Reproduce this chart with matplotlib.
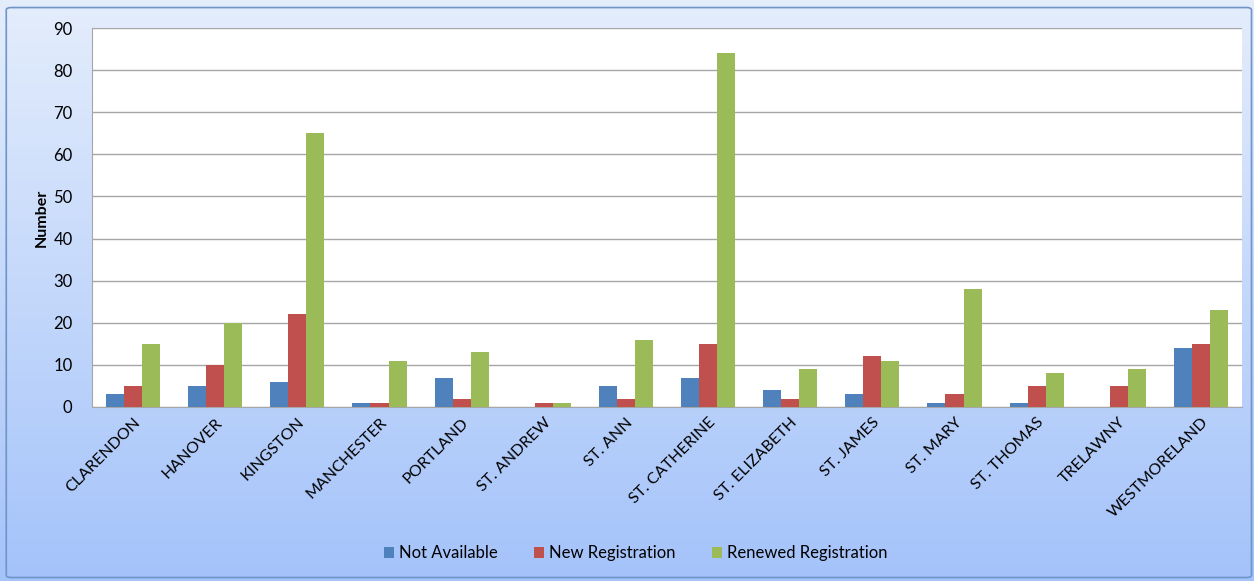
import numpy as np
import matplotlib
matplotlib.use("Agg")
import matplotlib.pyplot as plt
from matplotlib.patches import FancyBboxPatch
from matplotlib.colors import LinearSegmentedColormap

plt.rcParams['font.family'] = ['Lato', 'DejaVu Sans']

parishes = ['CLARENDON', 'HANOVER', 'KINGSTON', 'MANCHESTER', 'PORTLAND',
            'ST. ANDREW', 'ST. ANN', 'ST. CATHERINE', 'ST. ELIZABETH',
            'ST. JAMES', 'ST. MARY', 'ST. THOMAS', 'TRELAWNY', 'WESTMORELAND']
not_available = [3, 5, 6, 1, 7, 0, 5, 7, 4, 3, 1, 1, 0, 14]
new_registration = [5, 10, 22, 1, 2, 1, 2, 15, 2, 12, 3, 5, 5, 15]
renewed_registration = [15, 20, 65, 11, 13, 1, 16, 84, 9, 11, 28, 8, 9, 23]

series = [('Not Available', not_available, '#4F81BD'),
          ('New Registration', new_registration, '#C0504D'),
          ('Renewed Registration', renewed_registration, '#9BBB59')]

fig = plt.figure(figsize=(12.54, 5.81), dpi=100)

# background gradient for the chart area
bg = fig.add_axes([0, 0, 1, 1], zorder=-10)
grad = np.linspace(0, 1, 256).reshape(-1, 1)
cmap = LinearSegmentedColormap.from_list('bg', ['#e4edfc', '#a4c3fa'])
bg.imshow(grad, aspect='auto', cmap=cmap, extent=[0, 1, 0, 1], origin='upper')
bg.set_xlim(0, 1)
bg.set_ylim(0, 1)
bg.axis('off')
border = FancyBboxPatch((0.005, 0.006), 0.993, 0.981, boxstyle='round,pad=0,rounding_size=0.004',
                        transform=fig.transFigure, fill=False, edgecolor='#6f94c8', linewidth=1.2)
fig.patches.append(border)

ax = fig.add_axes([0.0734, 0.2995, 0.917, 0.6523])
ax.set_facecolor('white')

x = np.arange(len(parishes))
w = 0.22
for i, (name, vals, col) in enumerate(series):
    ax.bar(x + (i - 1) * w, vals, width=w, color=col, label=name, zorder=3)

ax.set_xlim(-0.5, len(parishes) - 0.5)
ax.set_ylim(0, 90)
ax.set_yticks(range(0, 91, 10))
ax.yaxis.grid(True, color='#a6a6a6', linewidth=1, zorder=0)
ax.set_axisbelow(True)
for s in ['top', 'right']:
    ax.spines[s].set_visible(False)
ax.spines['left'].set_color('#a6a6a6')
ax.spines['bottom'].set_color('#a6a6a6')
ax.tick_params(axis='y', length=0, labelsize=12, pad=14)
ax.tick_params(axis='x', length=0, labelsize=11.5, pad=6)
ax.set_xticks(x)
ax.set_xticklabels(parishes, rotation=45, ha='right', rotation_mode='anchor')
ax.set_ylabel('Number', fontsize=11.5, fontweight='bold', labelpad=3)

fig.legend(loc='center', bbox_to_anchor=(0.507, 0.048), ncol=3, frameon=False,
           fontsize=12, handlelength=0.6, handleheight=0.6, handletextpad=0.3,
           columnspacing=2.2)

fig.savefig('out.png', dpi=100)
